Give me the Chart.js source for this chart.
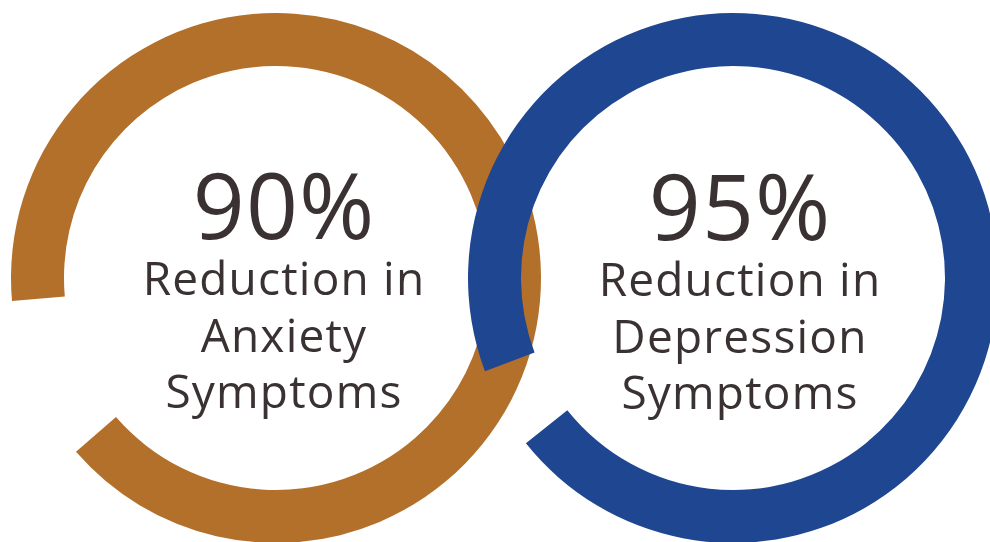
<!DOCTYPE html>
<html>
<head>
<meta charset="utf-8">
<title>Symptom Reduction</title>
<script src="https://cdn.jsdelivr.net/npm/chart.js@4/dist/chart.umd.min.js"></script>
<style>
  html, body {
    margin: 0;
    padding: 0;
    width: 990px;
    height: 542px;
    overflow: hidden;
    background: #ffffff;
  }
  .ring {
    position: absolute;
  }
  .label {
    position: absolute;
    width: 400px;
    text-align: center;
    color: #3a3232;
    font-family: "Open Sans", "Noto Sans", sans-serif;
  }
  .label .pct {
    font-size: 91px;
    line-height: 100px;
    height: 95px;
    letter-spacing: 1px;
  }
  .label .desc {
    font-size: 46px;
    line-height: 56.5px;
    letter-spacing: 1.2px;
  }
</style>
</head>
<body>

<canvas id="ring0" class="ring" width="530" height="530" style="left:11px; top:13px; z-index:1"></canvas>
<canvas id="ring1" class="ring" width="530" height="530" style="left:468px; top:13px; z-index:2"></canvas>
<div id="label0" class="label" style="left:84px; top:154px; z-index:3"></div>
<div id="label1" class="label" style="left:540px; top:155px; z-index:3"></div>

<script>
// Symptom reduction rings

const categories = ['Anxiety', 'Depression'];
const reductionPct = [90, 95];
const descLines = [
    ['Reduction in', 'Anxiety', 'Symptoms'],
    ['Reduction in', 'Depression', 'Symptoms']
];

const ringColors = ['#b2702b', '#1f4690'];
// where each ring's arc begins (degrees clockwise from top)
const ringRotation = [265, 249.4];

function createRing(i) {
    const ctx = document.getElementById('ring' + i);
    const pct = reductionPct[i];

    new Chart(ctx, {
        type: 'doughnut',
        data: {
            labels: [categories[i], ''],
            datasets: [{
                data: [pct, 100 - pct],
                backgroundColor: [ringColors[i], 'rgba(0, 0, 0, 0)'],
                borderWidth: 0,
                hoverOffset: 0
            }]
        },
        options: {
            responsive: false,
            devicePixelRatio: 1,
            animation: false,
            cutout: '80%',
            rotation: ringRotation[i],
            layout: { padding: 0 },
            plugins: {
                legend: { display: false },
                tooltip: { enabled: false }
            }
        }
    });

    const label = document.getElementById('label' + i);
    let html = '<div class="pct">' + pct + '%</div>';
    descLines[i].forEach(line => {
        html += '<div class="desc">' + line + '</div>';
    });
    label.innerHTML = html;
}

document.addEventListener('DOMContentLoaded', function() {
    categories.forEach((c, i) => createRing(i));
});
</script>
</body>
</html>
